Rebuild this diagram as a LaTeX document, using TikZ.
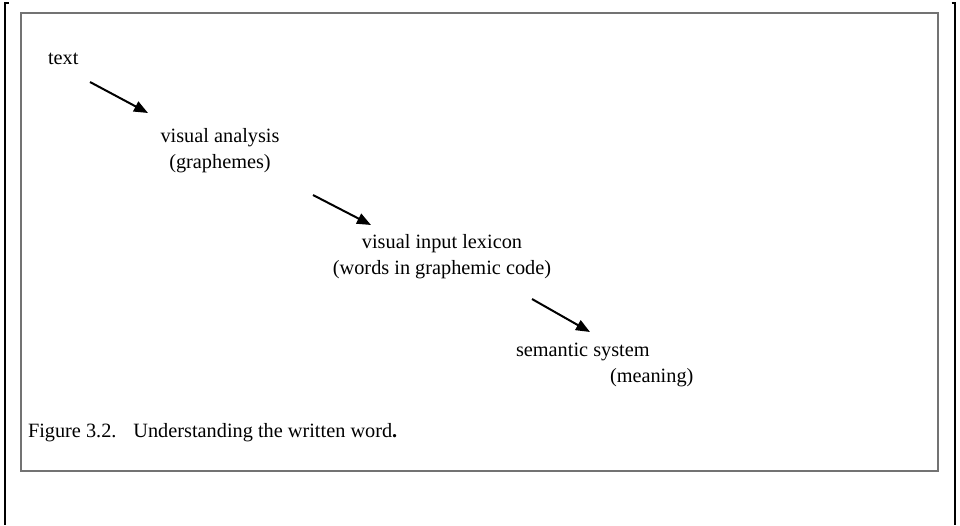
\documentclass[tikz,border=0pt]{standalone}
\usepackage{fontspec}
\setmainfont{Liberation Serif}
\usetikzlibrary{arrows.meta}
\begin{document}
\begin{tikzpicture}[x=1pt,y=-1pt,
  label/.style={inner sep=0pt,outer sep=0pt,font=\fontsize{20.3}{26}\selectfont,text=black},
  flow/.style={line width=2pt,-{Triangle[length=14pt,width=11pt]}},
  frame/.style={draw=black!55,line width=1.6pt},
  bracket/.style={line width=2.2pt,line cap=butt}]
\useasboundingbox (0,0) rectangle (960,525);
% page bracket lines
\draw[bracket] (8.5,3) -- (5,3) -- (5,525);
\draw[bracket] (951.5,3) -- (955,3) -- (955,525);
% figure box
\draw[frame] (21,13) rectangle (938,471);
% stages (base anchor sits on the last line of a two-line node)
\node[label,anchor=base west] (txt) at (48,64) {text};
\node[label,anchor=base,align=center] (vis) at (220,168) {visual analysis\\(graphemes)};
\node[label,anchor=base,align=center] (lex) at (442,274) {visual input lexicon\\(words in graphemic code)};
\node[label,anchor=base west,align=left] (sem) at (516,382) {semantic system\\\hspace*{94pt}(meaning)};
\node[label,anchor=base west] (cap) at (28,437) {Figure 3.2.\hspace{0.5em} Understanding the written word\textbf{.}};
% arrow ends
\coordinate (a1s) at (90,82);   \coordinate (a1e) at (148,113);
\coordinate (a2s) at (313,195); \coordinate (a2e) at (371,225);
\coordinate (a3s) at (532,299); \coordinate (a3e) at (590,332);
\draw[flow] (a1s) -- (a1e);
\draw[flow] (a2s) -- (a2e);
\draw[flow] (a3s) -- (a3e);
\end{tikzpicture}
\end{document}
